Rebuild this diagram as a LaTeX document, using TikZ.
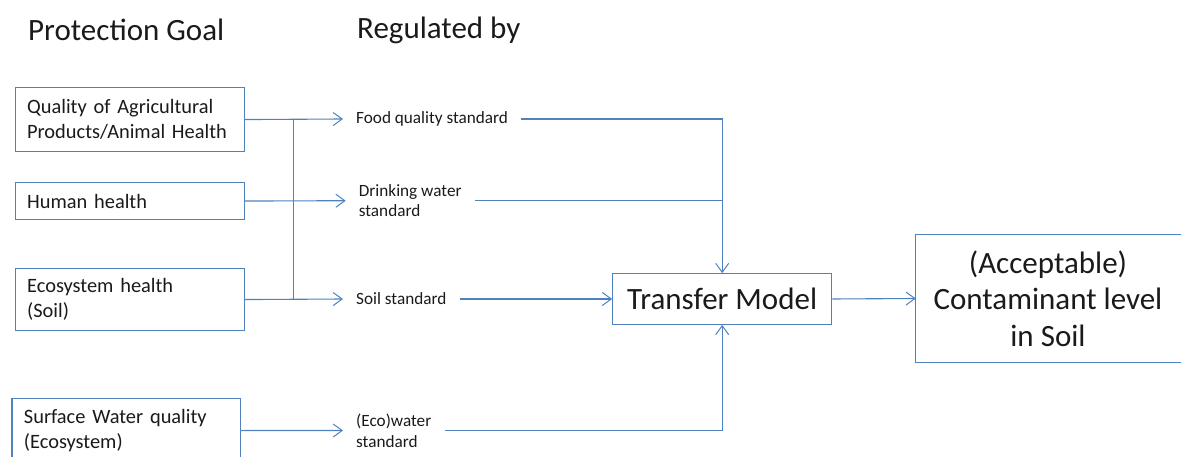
\documentclass[tikz,border=0pt]{standalone}
\usepackage{fontspec}
\setmainfont{Carlito}
\usetikzlibrary{arrows.meta}
\definecolor{linkblue}{HTML}{4F81BD}
\definecolor{inktext}{HTML}{1A1A1A}
\begin{document}
\begin{tikzpicture}[x=1pt,y=-1pt,
  goalbox/.style={draw=linkblue, line width=1.1pt, anchor=north west,
    inner xsep=12pt, inner ysep=0pt, align=left, text=inktext,
    font=\fontsize{20.4}{25}\selectfont},
  stdlabel/.style={anchor=west, inner xsep=13pt, inner ysep=0pt, align=left,
    text=inktext, font=\fontsize{17.2}{20}\selectfont},
  bigtext/.style={align=center, inner sep=0pt, text=inktext,
    font=\fontsize{31}{36.5}\selectfont},
  bigbox/.style={bigtext, draw=linkblue, line width=1.1pt},
  heading/.style={anchor=west, inner sep=0pt, text=inktext,
    font=\fontsize{31}{34}\selectfont},
  link/.style={draw=linkblue, line width=1.1pt},
  flow/.style={link, -{Straight Barb[length=9pt,width=13pt,line width=1pt]}}
]
\useasboundingbox (0,0) rectangle (1181,457);
\clip (0,0) rectangle (1181,457);

% column headings
\node[heading] (hgoal) at (28,30) {Protection Goal};
\node[heading] (hreg) at (357,30) {Regulated by};

% protection goals
\node[goalbox, text width=205.4pt, minimum height=64pt] (qual) at (14.6,87)
  {Quality of Agricultural\\Products/Animal Health};
\node[goalbox, text width=205.4pt, minimum height=37pt] (human) at (14.6,182)
  {Human health};
\node[goalbox, text width=205.4pt, minimum height=62pt] (eco) at (14.6,268)
  {Ecosystem health\\(Soil)};
\node[goalbox, text width=204.6pt, minimum height=64pt] (surf) at (11.4,398)
  {Surface Water quality\\(Ecosystem)};

% standards
\node[stdlabel] (food) at (343,119) {Food quality standard};
\node[stdlabel] (drink) at (345.7,200.7) {Drinking water\\standard};
\node[stdlabel] (soil) at (343,299) {Soil standard};
\node[stdlabel, font=\fontsize{17.2}{21}\selectfont] (ecow) at (343,430.5) {(Eco)water\\standard};

% model and result
\node[bigbox, minimum width=219pt, minimum height=50.6pt] (tm) at (722.2,299)
  {Transfer Model};
\node[bigtext, minimum width=264pt, minimum height=127pt] (res) at (1048,298.5)
  {(Acceptable)\\Contaminant level\\in Soil};
% result frame, open past the right edge of the page
\draw[link] ([xshift=40pt]res.north east) -| (res.south west)
  -- ([xshift=40pt]res.south east);

% shared bus between goals and standards
\coordinate (bustop) at (293.6,119);
\coordinate (busbot) at (293.6,299);
\draw[link] (bustop) -- (busbot);
\draw[flow] (qual.east) -- (food.west);
\draw[flow] (human.east) -- (drink.west);
\draw[flow] (eco.east) -- (soil.west);
\draw[flow] (surf.east) -- (ecow.west);

% standards into the transfer model
\draw[flow] (food.east) -- (food.east -| tm.north) -- (tm.north);
\draw[link] (drink.east) -- (drink.east -| tm.north);
\draw[flow] (soil.east) -- (tm.west);
\draw[flow] (ecow.east) -- (ecow.east -| tm.south) -- (tm.south);

% model output
\draw[flow] (tm.east) -- (res.west);
\end{tikzpicture}
\end{document}
